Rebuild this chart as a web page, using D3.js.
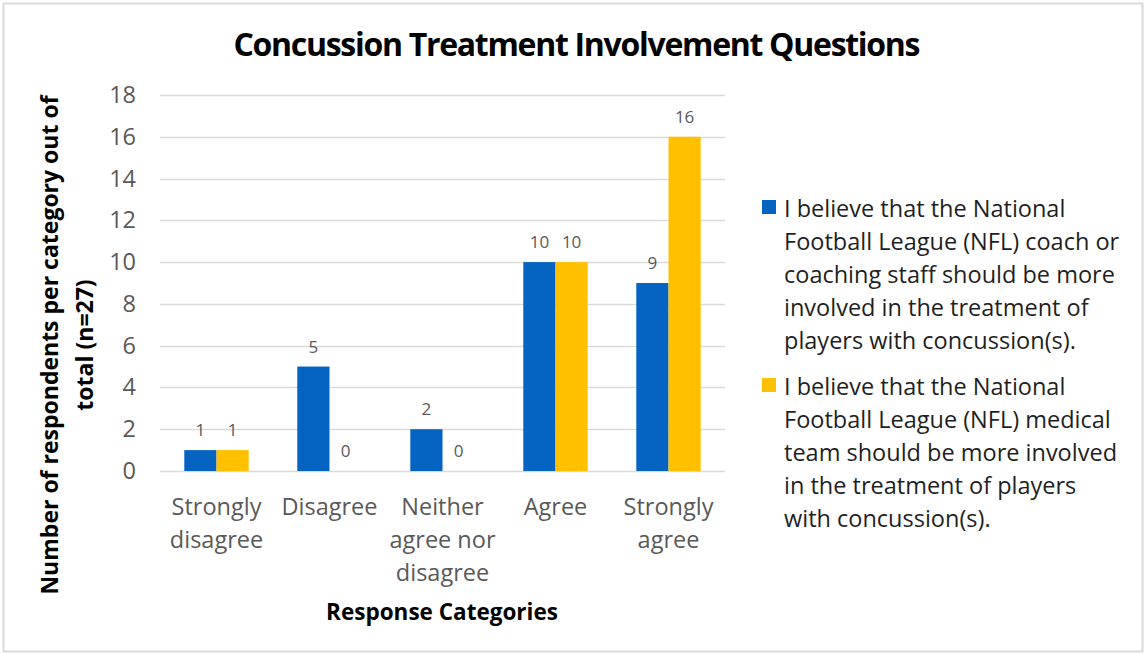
<!DOCTYPE html>
<html>
<head>
<meta charset="utf-8">
<script src="https://cdn.jsdelivr.net/npm/d3@7"></script>
<style>
  html, body { margin: 0; padding: 0; background: #fff; }
  svg { display: block; }
  text { font-family: "Open Sans", Lato, sans-serif; }
</style>
</head>
<body>
<svg id="chart" width="1146" height="655"></svg>
<script>
// Survey responses (n = 27)
const categories = [
  ["Strongly", "disagree"],
  ["Disagree"],
  ["Neither", "agree nor", "disagree"],
  ["Agree"],
  ["Strongly", "agree"]
];
const coachValues = [1, 5, 2, 10, 9];
const medicalValues = [1, 0, 0, 10, 16];
const yTicks = [0, 2, 4, 6, 8, 10, 12, 14, 16, 18];

const seriesNames = [
  ["I believe that the National", "Football League (NFL) coach or", "coaching staff should be more", "involved in the treatment of", "players with concussion(s)."],
  ["I believe that the National", "Football League (NFL) medical", "team should be more involved", "in the treatment of players", "with concussion(s)."]
];
const seriesColors = ["#0563C1", "#FFC000"];

const svg = d3.select("#chart");

// outer frame
svg.append("rect")
  .attr("x", 3.5).attr("y", 3.5)
  .attr("width", 1139).attr("height", 648)
  .attr("fill", "#fff").attr("stroke", "#d9d9d9").attr("stroke-width", 2);

const plot = { left: 160, right: 725, top: 95, bottom: 471 };

const x = d3.scaleBand()
  .domain(d3.range(categories.length))
  .range([plot.left, plot.right])
  .paddingInner(0.43).paddingOuter(0.215);

const xs = d3.scaleBand()
  .domain([0, 1])
  .range([0, x.bandwidth()]);

const y = d3.scaleLinear().domain([0, 18]).range([plot.bottom, plot.top]);

// gridlines
svg.append("g")
  .selectAll("line")
  .data(yTicks)
  .join("line")
  .attr("x1", plot.left).attr("x2", plot.right)
  .attr("y1", d => Math.round(y(d)) + 0.5).attr("y2", d => Math.round(y(d)) + 0.5)
  .attr("stroke", "#d9d9d9").attr("stroke-width", 1.5);

// y axis labels
const yAxis = d3.axisLeft(y).tickValues(yTicks).tickSize(0).tickPadding(0);
const gy = svg.append("g")
  .attr("transform", `translate(${plot.left - 24},0)`)
  .call(yAxis);
gy.select(".domain").remove();
gy.selectAll("text")
  .attr("font-size", 23.5)
  .attr("fill", "#595959")
  .attr("font-family", "'Open Sans', sans-serif");

// bars
const series = [coachValues, medicalValues];
series.forEach((vals, si) => {
  const g = svg.append("g");
  g.selectAll("rect")
    .data(vals)
    .join("rect")
    .attr("x", (d, i) => x(i) + xs(si))
    .attr("width", xs.bandwidth())
    .attr("y", d => y(d))
    .attr("height", d => y(0) - y(d))
    .attr("fill", seriesColors[si]);
  g.selectAll("text")
    .data(vals)
    .join("text")
    .attr("x", (d, i) => x(i) + xs(si) + xs.bandwidth() / 2)
    .attr("y", d => y(d) - 14)
    .attr("text-anchor", "middle")
    .attr("font-size", 17)
    .attr("fill", "#595959")
    .text(d => d);
});

// category labels
const xl = svg.append("g");
categories.forEach((lines, i) => {
  const t = xl.append("text")
    .attr("text-anchor", "middle")
    .attr("font-size", 23.5)
    .attr("fill", "#595959");
  lines.forEach((ln, j) => {
    t.append("tspan")
      .attr("x", x(i) + x.bandwidth() / 2)
      .attr("y", 515 + j * 33)
      .text(ln);
  });
});

// title
svg.append("text")
  .attr("x", 577).attr("y", 56)
  .attr("text-anchor", "middle")
  .attr("font-family", "Lato, sans-serif")
  .attr("font-size", 32).attr("font-weight", "bold")
  .attr("textLength", 687)
  .attr("fill", "#000")
  .text("Concussion Treatment Involvement Questions");

// axis titles
svg.append("text")
  .attr("x", 442).attr("y", 620)
  .attr("text-anchor", "middle")
  .attr("font-size", 22.5).attr("font-weight", "bold")
  .attr("fill", "#000")
  .text("Response Categories");

const yTitle = svg.append("text")
  .attr("transform", "translate(0,345) rotate(-90)")
  .attr("text-anchor", "middle")
  .attr("font-size", 23).attr("font-weight", "bold")
  .attr("fill", "#000");
yTitle.append("tspan").attr("x", 0).attr("y", 58).text("Number of respondents per category out of");
yTitle.append("tspan").attr("x", 0).attr("y", 93).text("total (n=27)");

// legend
const legendTop = [200, 378];
seriesNames.forEach((lines, si) => {
  const g = svg.append("g");
  g.append("rect")
    .attr("x", 762).attr("y", legendTop[si])
    .attr("width", 14).attr("height", 14)
    .attr("fill", seriesColors[si]);
  const t = g.append("text")
    .attr("font-size", 23.5)
    .attr("fill", "#1f1f1f");
  lines.forEach((ln, j) => {
    t.append("tspan")
      .attr("x", 784)
      .attr("y", legendTop[si] + 17 + j * 33)
      .text(ln);
  });
});
</script>
</body>
</html>
